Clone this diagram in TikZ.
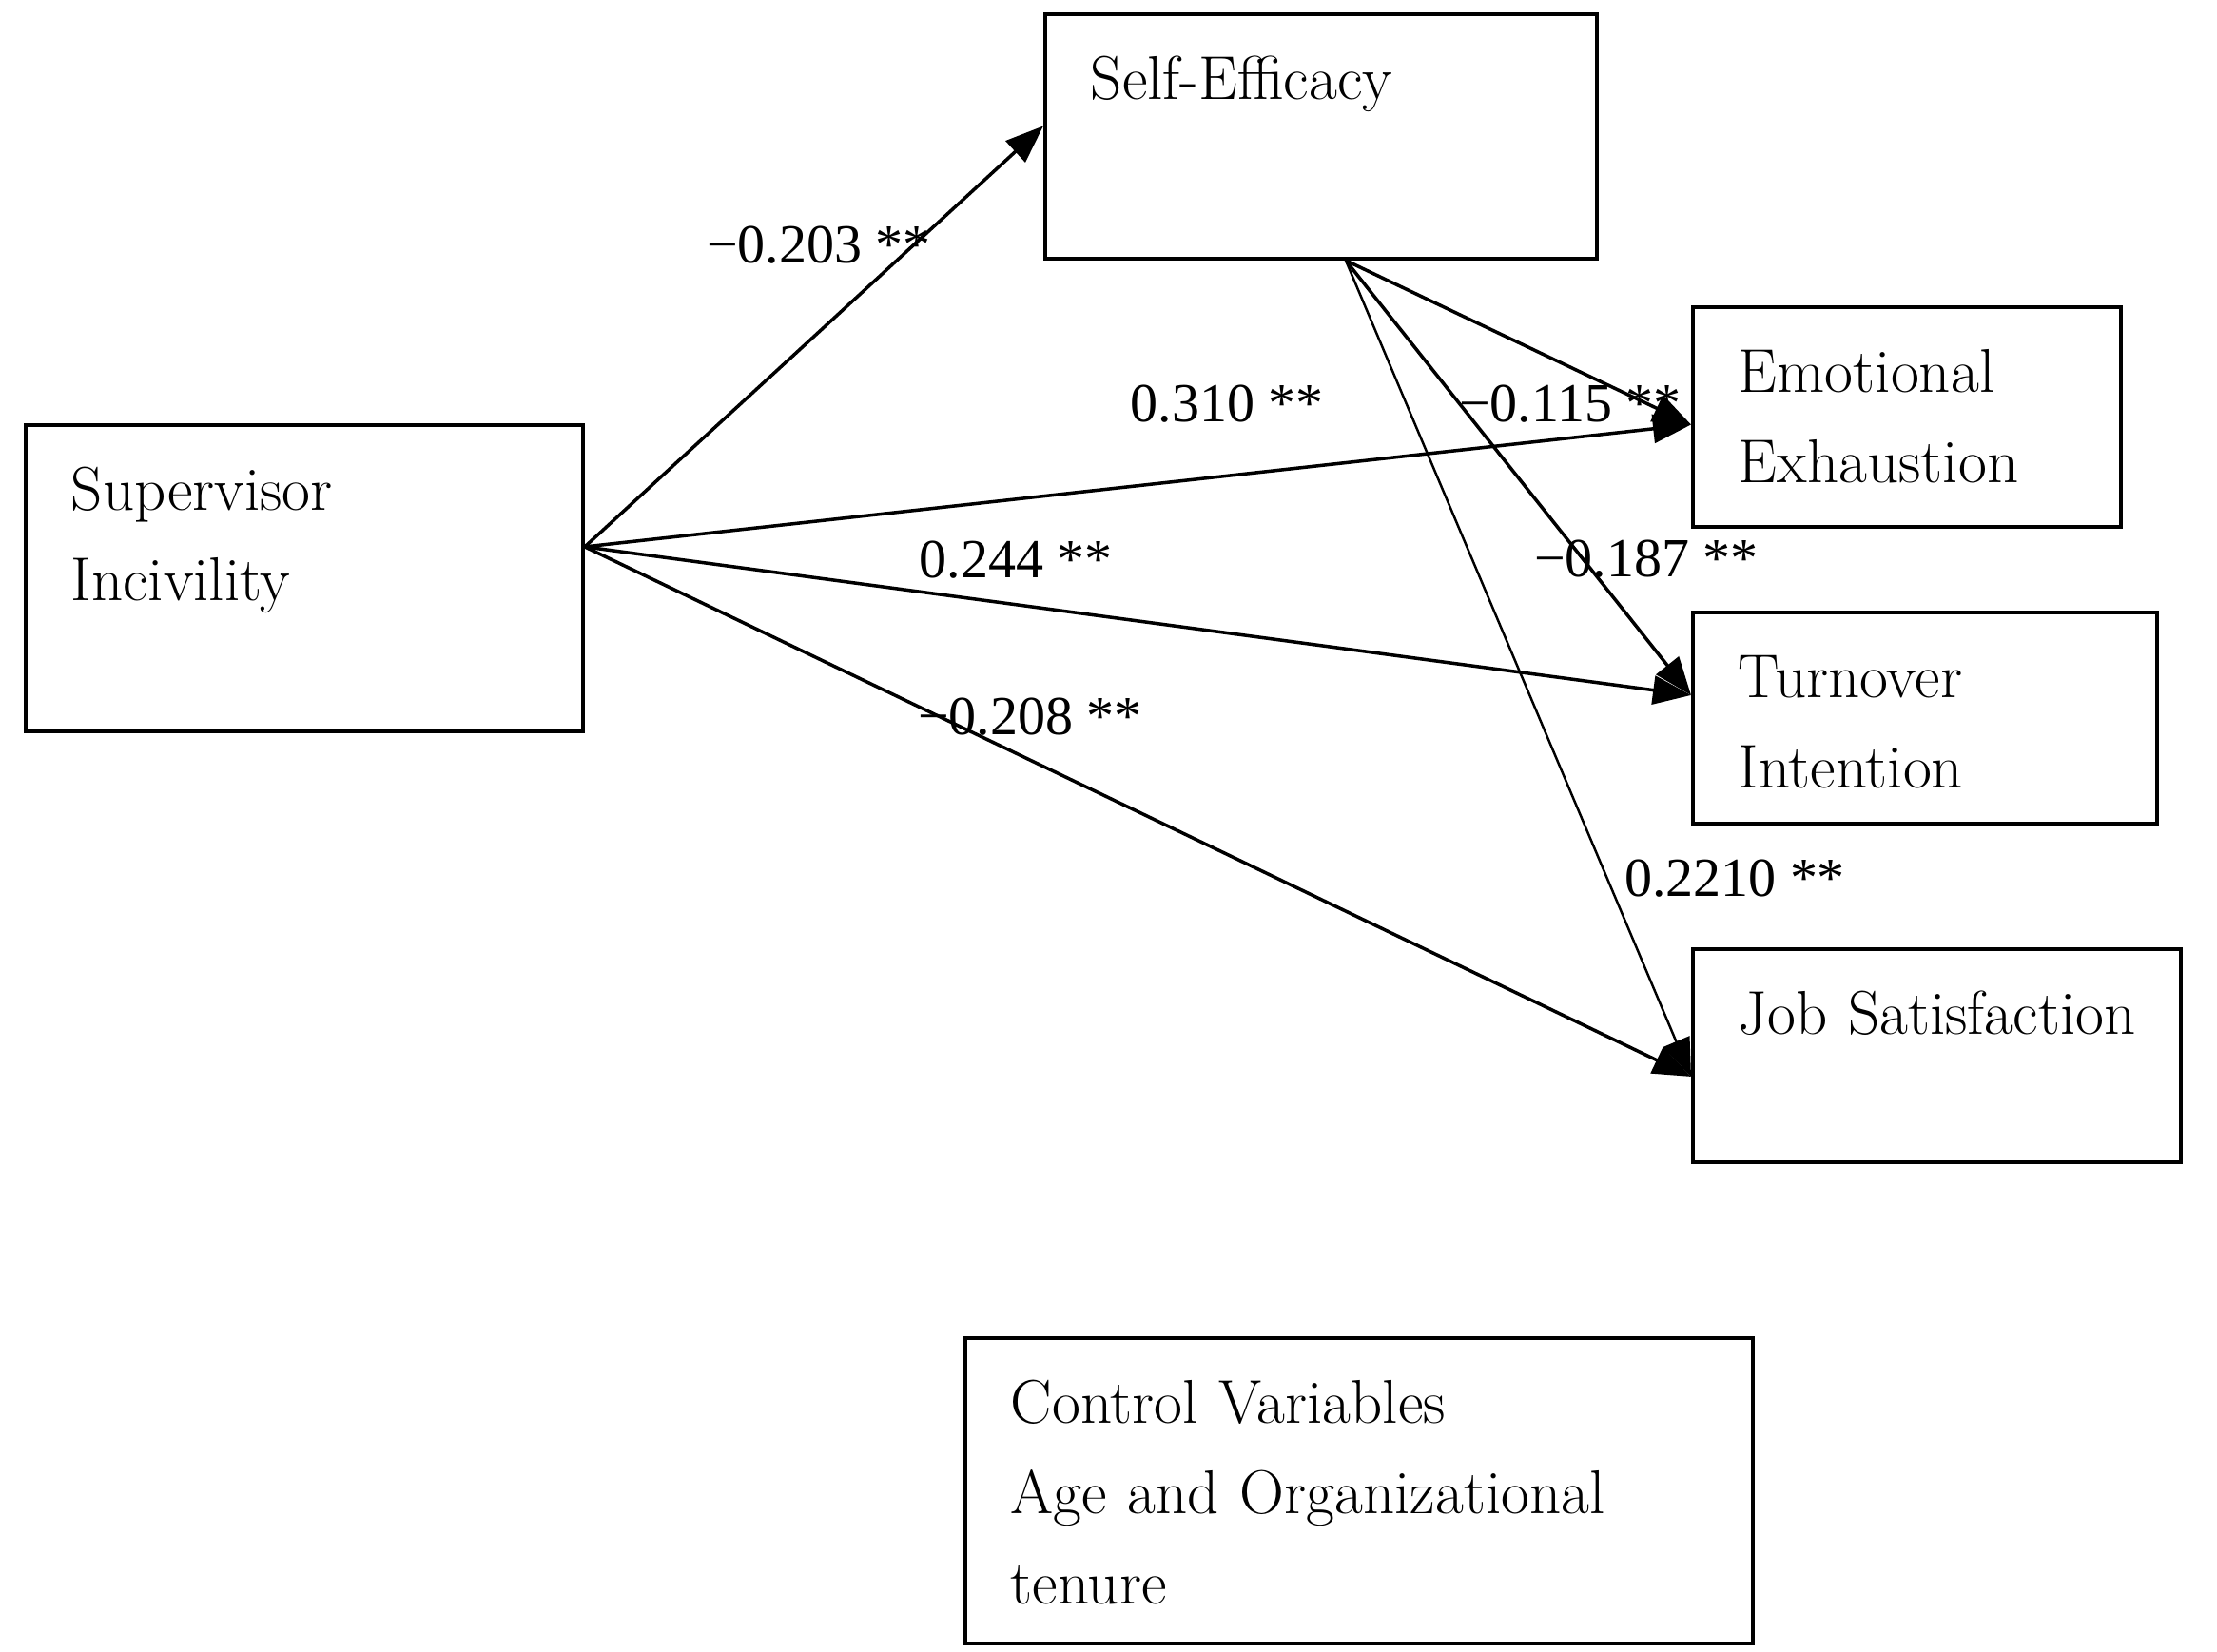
\documentclass[tikz,border=0pt]{standalone}
\usepackage{fontspec}
\usetikzlibrary{arrows.meta}
\newfontfamily\coeffont{Liberation Serif}
\begin{document}
\begin{tikzpicture}[
  box/.style={draw,line width=1.1pt,anchor=north west,inner xsep=0.48cm,inner ysep=0pt,align=left,text height=0.9cm,font=\fontsize{18.5}{27}\selectfont},
  link/.style={-{Triangle[length=4mm,width=3mm]},line width=1pt},
  coef/.style={font=\coeffont\fontsize{16.5}{18}\selectfont,inner sep=0pt}]
\useasboundingbox (0,0) rectangle (23.31,-17.37);
\node[box,text width=4.84cm,text depth=1.67cm](se)at(10.97,-0.13){Self-Efficacy};
\node[box,text width=4.90cm,text depth=2.32cm](si)at(0.25,-4.45){Supervisor\\Incivility};
\node[box,text width=3.54cm,text depth=1.41cm](ee)at(17.78,-3.21){Emotional\\Exhaustion};
\node[box,text width=3.92cm,text depth=1.32cm](ti)at(17.78,-6.42){Turnover\\Intention};
\node[box,text width=4.17cm,text depth=1.34cm](js)at(17.78,-9.96){\mbox{Job Satisfaction}};
\node[box,text width=7.32cm,text depth=2.31cm](cv)at(10.13,-14.05){Control Variables\\Age and Organizational\\tenure};
\coordinate(siout)at([yshift=0.33cm]si.east);
\coordinate(seout)at([xshift=0.26cm]se.south);
\draw[link](siout)--([yshift=0.11cm]se.west);
\draw[link](siout)--([yshift=-0.08cm]ee.west);
\draw[link](siout)--([yshift=0.24cm]ti.west);
\draw[link](siout)--([yshift=-0.22cm]js.west);
\draw[link](seout)--([yshift=-0.08cm]ee.west);
\draw[link](seout)--([yshift=0.24cm]ti.west);
\draw[link,line width=0.7pt](seout)--([yshift=-0.22cm]js.west);
\node[coef](c1)at(8.61,-2.58){−0.203 **};
\node[coef](c2)at(12.90,-4.25){0.310 **};
\node[coef](c3)at(16.51,-4.25){−0.115 **};
\node[coef](c4)at(10.68,-5.89){0.244 **};
\node[coef](c5)at(17.31,-5.88){−0.187 **};
\node[coef](c6)at(10.83,-7.54){−0.208 **};
\node[coef](c7)at(18.24,-9.24){0.2210 **};
\end{tikzpicture}
\end{document}
